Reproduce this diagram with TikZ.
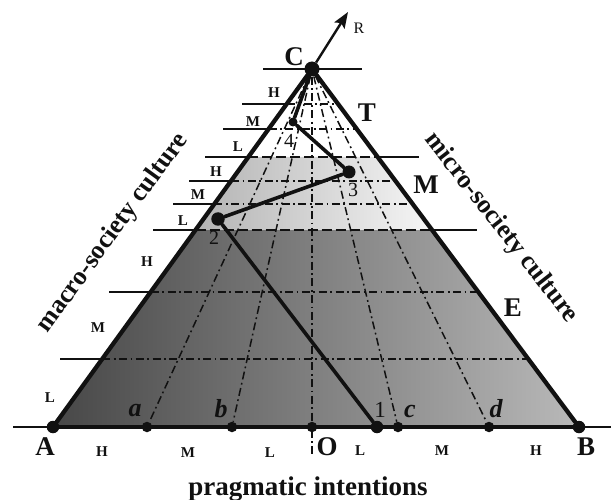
\documentclass[tikz,border=0pt]{standalone}
\usepackage{fontspec}
\setmainfont{Liberation Serif}
\usepackage{tikz}
\usetikzlibrary{arrows.meta,calc}
\definecolor{ink}{HTML}{111111}
\definecolor{darkl}{HTML}{474747}
\definecolor{darkr}{HTML}{B9B9B9}
\definecolor{lightl}{HTML}{B3B3B3}
\definecolor{lightr}{HTML}{F6F6F6}
\tikzset{
  bigdot/.style={circle,fill=ink,inner sep=0pt,minimum size=12.5pt},
  smalldot/.style={circle,fill=ink,inner sep=0pt,minimum size=10.5pt},
  edgeline/.style={line width=4.3pt,color=ink,line cap=round},
  pathline/.style={line width=3.6pt,color=ink,line cap=round,line join=round},
  tickline/.style={line width=1.5pt,color=ink},
  gridline/.style={line width=1.5pt,color=ink,dash pattern=on 8pt off 3.5pt on 1.8pt off 3.5pt},
  bandline/.style={line width=1.8pt,color=ink,dash pattern=on 10pt off 4pt},
  lvl/.style={font=\bfseries\fontsize{15}{15}\selectfont,text=ink,inner sep=0pt},
  vtx/.style={font=\bfseries\fontsize{27}{27}\selectfont,text=ink,inner sep=0pt},
  ptlabel/.style={font=\bfseries\itshape\fontsize{26}{26}\selectfont,text=ink,inner sep=0pt},
  stagelabel/.style={font=\fontsize{20}{20}\selectfont,text=ink,inner sep=0pt},
  axislabel/.style={font=\bfseries\fontsize{26}{26}\selectfont,text=ink,inner sep=0pt},
}

\begin{document}
\begin{tikzpicture}[x=1pt,y=-1pt]
  \useasboundingbox (0,0) rectangle (611,500);

  \shade[left color=darkl,right color=darkr] (53,427) -- (579,427) -- (432.1,230) -- (195.5,230) -- cycle;
  \shade[left color=lightl,right color=lightr] (195.5,230) -- (432.1,230) -- (377.6,157) -- (248.3,157) -- cycle;

  \draw[tickline] (13,427) -- (611,427);
  \draw[tickline] (263,69) -- (362,69);
  \draw[tickline] (242,104) -- (286.7,104);
  \draw[gridline] (286.7,104) -- (338.1,104);
  \draw[tickline] (223,129) -- (268.6,129);
  \draw[gridline] (268.6,129) -- (356.7,129);
  \draw[tickline] (205,157) -- (248.3,157);
  \draw[bandline] (248.3,157) -- (377.6,157);
  \draw[tickline] (377.6,157) -- (419,157);
  \draw[tickline] (189,181) -- (231,181);
  \draw[gridline] (231,181) -- (395.5,181);
  \draw[tickline] (173,204) -- (214.3,204);
  \draw[gridline] (214.3,204) -- (412.7,204);
  \draw[tickline] (153,230) -- (195.5,230);
  \draw[bandline] (195.5,230) -- (432.1,230);
  \draw[tickline] (432.1,230) -- (477,230);
  \draw[tickline] (109,292) -- (150.7,292);
  \draw[gridline] (150.7,292) -- (478.3,292);
  \draw[tickline] (60,359) -- (102.2,359);
  \draw[gridline] (102.2,359) -- (528.3,359);

  \node[bigdot,minimum size=15pt] (ptC) at (312,69) {};
  \node[bigdot] (ptA) at (53,427) {};
  \node[bigdot] (ptB) at (579,427) {};
  \node[smalldot] (pta) at (147,427) {};
  \node[smalldot] (ptb) at (232,427) {};
  \node[smalldot] (ptO) at (312,427) {};
  \node[smalldot] (ptc) at (398,427) {};
  \node[smalldot] (ptd) at (489,427) {};
  \coordinate (belowO) at (312,456);
  \coordinate (tipR) at (348,12);

  \draw[gridline] (ptC) -- (pta);
  \draw[gridline] (ptC) -- (ptb);
  \draw[gridline] (ptC) -- (belowO);
  \draw[gridline] (ptC) -- (ptc);
  \draw[gridline] (ptC) -- (ptd);

  \draw[edgeline] (ptA) -- (ptC) -- (ptB);
  \draw[edgeline] (ptA) -- (ptB);
  \draw[line width=2.4pt,color=ink,-{Stealth[length=16pt,width=12pt,inset=3pt]}] (ptC) -- (tipR);

  \node[bigdot] (st1) at (377,427) {};
  \node[bigdot,minimum size=13.5pt] (st2) at (218,219) {};
  \node[bigdot,minimum size=13pt] (st3) at (349,172) {};
  \node[bigdot,minimum size=9pt] (st4) at (293,122) {};
  \draw[pathline] (st1) -- (st2) -- (st3) -- (st4) -- (ptC);

  \node[vtx] (lblC) at (294,57) {C};
  \node[vtx] (lblA) at (45,447) {A};
  \node[vtx] (lblB) at (586,447) {B};
  \node[vtx] (lblO) at (327,447) {O};
  \node[vtx] (lblT) at (367,113) {T};
  \node[vtx] (lblM) at (426,185) {M};
  \node[vtx] (lblE) at (513,308) {E};
  \node[font=\fontsize{16}{16}\selectfont,text=ink,inner sep=0pt] (lblR) at (359,28) {R};

  \node[ptlabel] (lbla) at (135,411) {a};
  \node[ptlabel] (lblb) at (221,409) {b};
  \node[ptlabel] (lblc) at (410,411) {c};
  \node[ptlabel] (lbld) at (496,409) {d};
  \node[font=\fontsize{23}{23}\selectfont,text=ink,inner sep=0pt] (lbl1) at (380,410) {1};
  \node[stagelabel] (lbl2) at (214,238) {2};
  \node[stagelabel] (lbl3) at (353,190) {3};
  \node[stagelabel] (lbl4) at (289,141) {4};

  \node[lvl] (bH1) at (102,452) {H};
  \node[lvl] (bM1) at (188,453) {M};
  \node[lvl] (bL1) at (270,453) {L};
  \node[lvl] (bL2) at (360,451) {L};
  \node[lvl] (bM2) at (442,451) {M};
  \node[lvl] (bH2) at (536,451) {H};

  \node[lvl] (sH1) at (274,93) {H};
  \node[lvl] (sM1) at (253,122) {M};
  \node[lvl] (sL1) at (238,147) {L};
  \node[lvl] (sH2) at (216,172) {H};
  \node[lvl] (sM2) at (198,195) {M};
  \node[lvl] (sL2) at (183,221) {L};
  \node[lvl] (sH3) at (147,262) {H};
  \node[lvl] (sM3) at (98,328) {M};
  \node[lvl] (sL3) at (50,398) {L};

  \node[axislabel,rotate=54] (macro) at (113,233) {macro-society culture};
  \node[axislabel,rotate=-52] (micro) at (501,228) {micro-society culture};
  \node[axislabel,font=\bfseries\fontsize{27}{27}\selectfont,anchor=base] (prag) at (308,495) {pragmatic intentions};
\end{tikzpicture}
\end{document}
